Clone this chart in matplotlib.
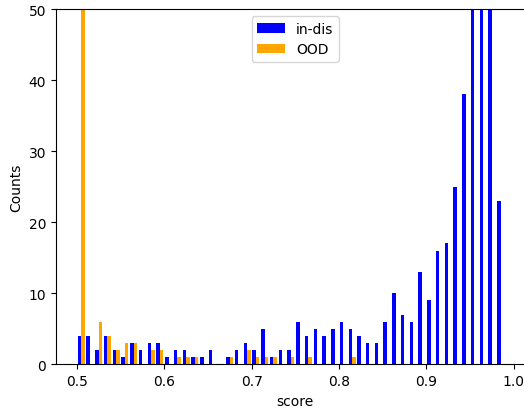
import numpy as np
import matplotlib
matplotlib.use('Agg')
import matplotlib.pyplot as plt

# histogram bins: 0.50 .. 1.00 in steps of 0.01 (50 bins)
bin_edges = np.linspace(0.5, 1.0, 51)

# counts per bin (bins above 50 are clipped there)
in_dis = [4, 4, 2, 4, 2, 1, 3, 2, 3, 3,
          1, 2, 2, 1, 1, 2, 0, 1, 2, 3,
          2, 5, 1, 2, 2, 6, 4, 5, 4, 5,
          6, 5, 4, 3, 3, 6, 10, 7, 6, 13,
          9, 16, 17, 25, 38, 56, 64, 58, 23, 0]
ood = [95, 0, 6, 4, 2, 3, 3, 0, 2, 2,
       0, 1, 1, 1, 0, 0, 0, 1, 0, 2,
       1, 1, 1, 0, 1, 0, 1, 0, 0, 0,
       0, 1, 0, 0, 0, 0, 0, 0, 0, 0,
       0, 0, 0, 0, 0, 0, 0, 0, 0, 0]

centers = (bin_edges[:-1] + bin_edges[1:]) / 2

fig = plt.figure(figsize=(5.24, 4.10), dpi=100)
# axes runs a bit past the right edge of the figure, as in the original crop
ax = fig.add_axes([56 / 524, 44.7 / 410, 478.5 / 524, 355.3 / 410])

ax.hist([centers, centers], bins=bin_edges, weights=[in_dis, ood],
        color=['blue', 'orange'], label=['in-dis', 'OOD'])

ax.set_ylim(0, 50)
ax.set_xlabel('score')
ax.set_ylabel('Counts')
ax.legend(loc='upper center')

fig.savefig('out.png', dpi=100)
